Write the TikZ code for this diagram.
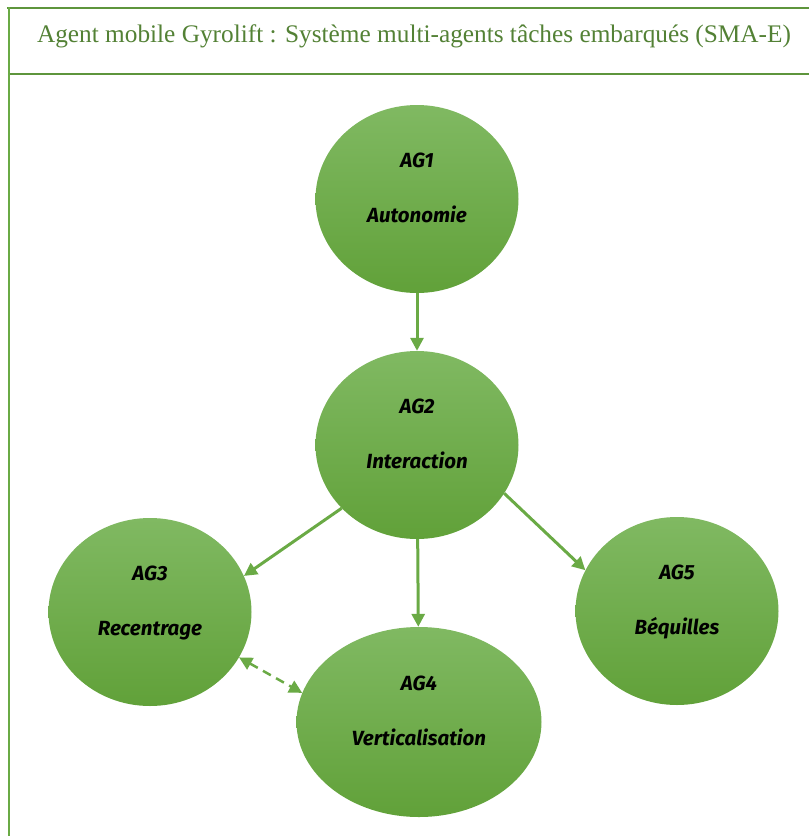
\documentclass[tikz,border=0pt]{standalone}
\usepackage{fontspec}
\setmainfont{Liberation Serif}
\newfontfamily\agentfont{Fira Sans}
\usetikzlibrary{arrows.meta,shapes.geometric}
\definecolor{GyroMain}{HTML}{6AAA45}
\definecolor{GyroTop}{HTML}{80B962}
\definecolor{GyroBottom}{HTML}{61A139}
\definecolor{GyroTitle}{HTML}{538135}
\definecolor{GyroFrame}{HTML}{5E953C}
\tikzset{>=Triangle,agent/.style={ellipse,top color=GyroTop,bottom color=GyroBottom,
 draw=none,inner sep=0pt,minimum width=203pt,minimum height=188pt,align=center,
 text depth=22pt,font=\agentfont\fontsize{20.5}{24}\selectfont\bfseries\itshape},
 flow/.style={draw=GyroMain,line width=3pt,-{Triangle[length=13pt,width=13pt]}},
 frameline/.style={draw=GyroFrame,line width=1.5pt}}

\begin{document}
\begin{tikzpicture}[x=1pt,y=-1pt]
\useasboundingbox (0,0) rectangle (809,836);
\draw[frameline] (7,8)--(809,8);
\draw[frameline] (9,74)--(809,74);
\draw[frameline,draw=GyroMain,line width=2.5pt] (9,7.25)--(9,836);
\node[anchor=base,text=GyroTitle,font=\fontsize{25.3}{30}\selectfont,xscale=1] (title) at (414,42.5)
 {Agent mobile Gyrolift : Système multi-agents tâches embarqués (SMA-E)};
\node[agent] (ag1) at (417,199) {AG1\\[31pt]Autonomie};
\node[agent] (ag2) at (417,445) {AG2\\[31pt]Interaction};
\node[agent] (ag3) at (150,612) {AG3\\[31pt]Recentrage};
\node[agent,minimum width=245pt,minimum height=190pt] (ag4) at (419,722) {AG4\\[31pt]Verticalisation};
\node[agent] (ag5) at (677,611) {AG5\\[31pt]Béquilles};
\draw[flow] (ag1)--(ag2);
\draw[flow] (ag2.220)--(ag3.21);
\draw[flow] (ag2)--(ag4);
\draw[flow] (ag2.-29)--(ag5.156);
\draw[flow,line width=2.5pt,dash pattern=on 9pt off 6pt,
 {Triangle[length=13pt,width=13pt]}-{Triangle[length=13pt,width=13pt]}] (ag3.-27)--(ag4.166);
\end{tikzpicture}
\end{document}
